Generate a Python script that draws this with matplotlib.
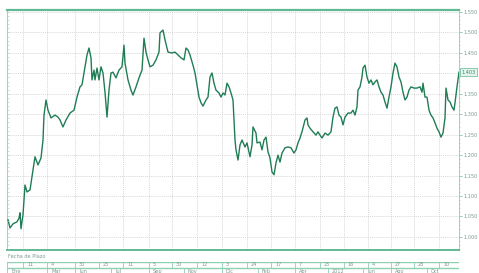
import matplotlib
matplotlib.use("Agg")
import matplotlib.pyplot as plt
from matplotlib.ticker import MultipleLocator, FixedLocator, FuncFormatter

# ---------------- data ----------------
session = [0, 2, 5, 9, 11, 12, 13, 15, 17, 19, 22, 25, 27, 30, 33, 35, 36, 38, 40, 43,
           47, 50, 52, 55, 58, 62, 66, 69, 72, 74, 77, 79, 81, 83, 84, 86, 87, 89, 91, 93,
           95, 97, 99, 101, 103, 105, 108, 111, 114, 116, 117, 120, 123, 125, 128, 131, 134, 136, 138, 140,
           142, 145, 148, 151, 152, 155, 157, 160, 164, 167, 170, 173, 176, 178, 180, 182, 185, 187, 189, 191,
           193, 195, 198, 200, 202, 204, 206, 208, 211, 213, 215, 217, 219, 221, 223, 225, 227, 228, 230, 232,
           234, 237, 239, 242, 244, 245, 248, 249, 252, 254, 256, 258, 260, 262, 264, 266, 268, 270, 272, 274,
           277, 280, 283, 286, 288, 290, 292, 294, 297, 299, 300, 302, 305, 308, 310, 312, 314, 317, 320, 323,
           325, 327, 329, 331, 333, 335, 337, 340, 343, 345, 347, 349, 350, 352, 354, 355, 357, 359, 361, 363,
           365, 367, 369, 371, 373, 375, 377, 379, 381, 383, 385, 387, 389, 391, 393, 395, 397, 399, 401, 403,
           406, 409, 412, 414, 415, 417, 419, 421, 423, 425, 427, 429, 431, 433, 435, 437, 438, 440, 442, 444,
           446, 447, 449, 451]
price = [1.042, 1.022, 1.032, 1.037, 1.046, 1.059, 1.020, 1.054, 1.127, 1.110, 1.115, 1.164, 1.196, 1.176, 1.193, 1.237, 1.298, 1.335, 1.310, 1.291,
         1.298, 1.293, 1.286, 1.269, 1.286, 1.303, 1.310, 1.342, 1.367, 1.372, 1.416, 1.445, 1.462, 1.438, 1.384, 1.408, 1.384, 1.413, 1.384, 1.416,
         1.401, 1.354, 1.293, 1.359, 1.401, 1.403, 1.389, 1.408, 1.416, 1.469, 1.425, 1.384, 1.359, 1.347, 1.367, 1.389, 1.408, 1.486, 1.452, 1.433,
         1.416, 1.420, 1.433, 1.452, 1.499, 1.506, 1.482, 1.452, 1.450, 1.452, 1.445, 1.438, 1.433, 1.462, 1.457, 1.445, 1.420, 1.401, 1.372, 1.342,
         1.328, 1.320, 1.335, 1.342, 1.391, 1.401, 1.376, 1.359, 1.352, 1.342, 1.352, 1.347, 1.376, 1.367, 1.352, 1.335, 1.237, 1.213, 1.188, 1.225,
         1.237, 1.220, 1.230, 1.196, 1.225, 1.269, 1.254, 1.230, 1.232, 1.213, 1.237, 1.244, 1.208, 1.193, 1.159, 1.152, 1.181, 1.200, 1.183, 1.205,
         1.218, 1.220, 1.218, 1.205, 1.213, 1.230, 1.242, 1.257, 1.286, 1.291, 1.274, 1.266, 1.257, 1.249, 1.257, 1.249, 1.242, 1.254, 1.249, 1.257,
         1.293, 1.315, 1.318, 1.298, 1.293, 1.274, 1.293, 1.303, 1.303, 1.310, 1.298, 1.318, 1.359, 1.367, 1.391, 1.413, 1.420, 1.391, 1.376, 1.384,
         1.372, 1.379, 1.384, 1.367, 1.354, 1.347, 1.330, 1.315, 1.342, 1.367, 1.401, 1.425, 1.416, 1.391, 1.379, 1.354, 1.335, 1.342, 1.359, 1.367,
         1.364, 1.364, 1.367, 1.354, 1.376, 1.342, 1.342, 1.310, 1.298, 1.291, 1.279, 1.266, 1.257, 1.244, 1.254, 1.291, 1.364, 1.335, 1.330, 1.318,
         1.310, 1.328, 1.367, 1.403]

tick_sessions = [15, 39, 67, 91, 115, 141, 164, 189, 214, 239, 263, 287, 312, 336, 360, 383, 406, 431]
day_labels = ["11", "4", "30", "25", "11", "5", "30", "12", "3", "24", "17", "7", "25", "16", "4", "27", "28", "10"]
month_sessions = [-1, 39, 67, 103, 141, 176, 214, 250, 287, 320, 355, 383, 419]
month_labels = ["Ene", "Mar", "Jun", "Jul", "Sep", "Nov", "Dic", "Feb", "Abr", "2012", "Jun", "Ago", "Oct"]
y_ticks = [1.000, 1.050, 1.100, 1.150, 1.200, 1.250, 1.300, 1.350, 1.400, 1.450, 1.500, 1.550]
axis_title = "Fecha de Plazo"

# ---------------- styles ----------------
LINE = "#1f7d55"
FRAME = "#8fcfb2"
FRAME_DARK = "#62b894"
TEXT = "#7a9c8e"
GRID = "#c9c9c9"

W, H = 479, 273
fig = plt.figure(figsize=(W / 100, H / 100), dpi=100)
fig.patch.set_facecolor("white")

def px_axes(x0, y0, x1, y1):
    return fig.add_axes([x0 / W, 1 - y1 / H, (x1 - x0) / W, (y1 - y0) / H])

ax = px_axes(7, 10, 459, 250)
ax.set_xlim(-1, 451)
ax.set_ylim(0.968, 1.555)

# left side minor ticks (dashed-edge look) on a twin, created first
axl = ax.twinx()
axl.set_ylim(ax.get_ylim())
axl.yaxis.set_ticks_position("left")
axl.yaxis.set_major_locator(MultipleLocator(0.05))
axl.yaxis.set_minor_locator(MultipleLocator(0.01))
axl.tick_params(axis="y", which="both", direction="in", length=1.2, width=0.4,
                color=FRAME, labelleft=False, labelright=False)
for s in axl.spines.values():
    s.set_visible(False)

ax.plot(session, price, color=LINE, lw=1.0, solid_joinstyle="round", zorder=3)

ax.xaxis.set_major_locator(FixedLocator(tick_sessions))
ax.yaxis.set_major_locator(FixedLocator(y_ticks))
ax.grid(True, which="major", color=GRID, lw=0.5, ls=(0, (1.5, 1.5)))
ax.tick_params(axis="x", which="both", length=0, labelbottom=False)
ax.yaxis.set_ticks_position("right")
ax.yaxis.set_label_position("right")
ax.yaxis.set_minor_locator(MultipleLocator(0.01))
ax.tick_params(axis="y", which="major", direction="out", length=2, width=0.5,
               color=FRAME_DARK, labelsize=3.6, labelcolor=TEXT, pad=1,
               left=False, labelleft=False, right=True, labelright=True)
ax.tick_params(axis="y", which="minor", direction="out", length=1, width=0.4,
               color=FRAME_DARK, left=False, right=True)
ax.yaxis.set_major_formatter(FuncFormatter(lambda v, p: "" if abs(v - 1.4) < 1e-6 else f"{v:.3f}"))

for side in ["left", "right"]:
    ax.spines[side].set_color(FRAME)
    ax.spines[side].set_linewidth(0.6)
ax.spines["top"].set_color(FRAME_DARK)
ax.spines["top"].set_linewidth(1.6)
ax.spines["bottom"].set_color(FRAME_DARK)
ax.spines["bottom"].set_linewidth(1.4)

# last value box
last = price[-1]
ax.annotate(f"{last:.3f}", xy=(1.0, last), xycoords=("axes fraction", "data"),
            xytext=(1.5, 0), textcoords="offset points", ha="left", va="center",
            fontsize=3.6, color="#3f8a6a",
            bbox=dict(boxstyle="square,pad=0.25", fc="#e3f4ec", ec=FRAME_DARK, lw=0.5))

# axis title
fig.text(8 / W, 1 - 257 / H, axis_title, fontsize=3.6, color=TEXT, ha="left", va="center")

# date band
band = px_axes(7, 262, 459, 282)
band.set_xlim(ax.get_xlim())
band.set_ylim(0, 2)
band.axis("off")
band.axhline(2, color=FRAME, lw=1.0)
band.axhline(1.4, color=FRAME, lw=1.0)
band.axvline(-1, ymin=0.7, ymax=1, color=FRAME, lw=0.6)
for s, lab in zip(tick_sessions, day_labels):
    band.plot([s, s], [1.4, 2], color=FRAME, lw=0.6)
    band.text(s + 4, 1.7, lab, fontsize=3.6, color=TEXT, ha="left", va="center")
for s, lab in zip(month_sessions, month_labels):
    band.plot([s, s], [0, 1.4], color=FRAME, lw=0.6)
    band.text(s + 4, 1.05, lab, fontsize=3.6, color=TEXT, ha="left", va="center")

fig.savefig("out.png", dpi=100, facecolor="white")
